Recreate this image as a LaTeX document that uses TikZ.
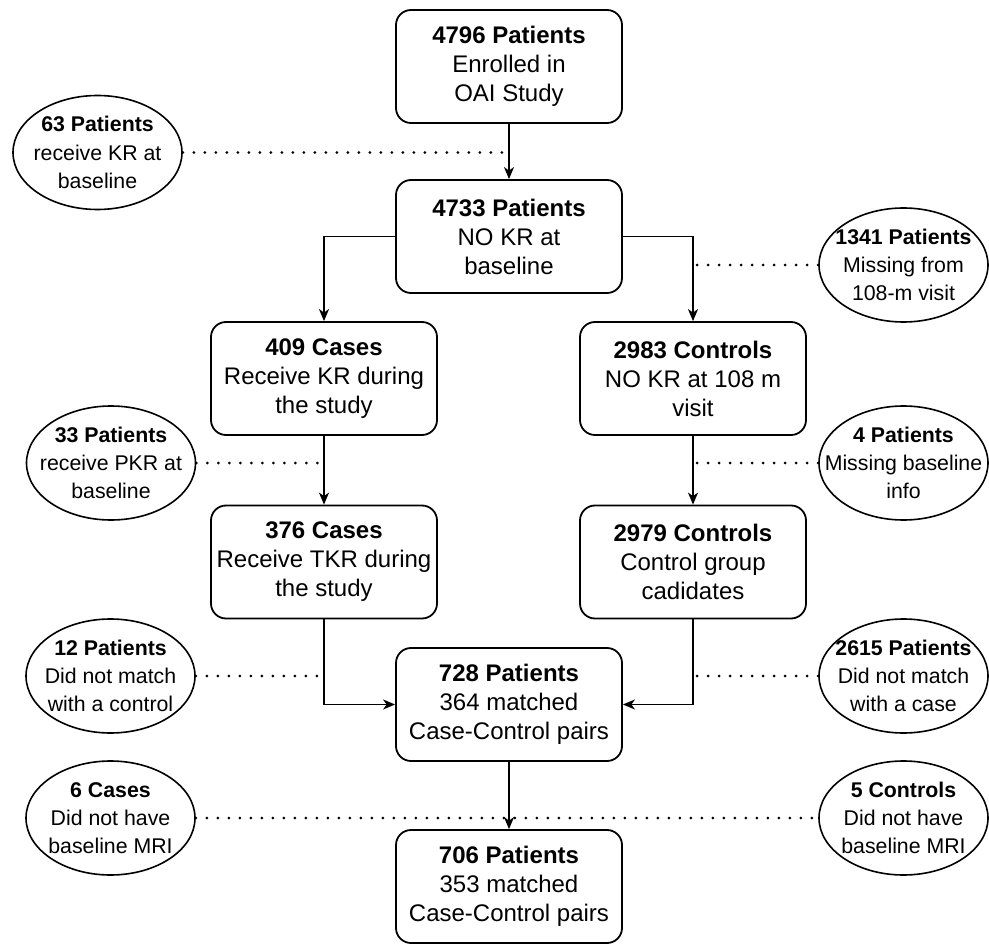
\documentclass[tikz,border=0pt]{standalone}
\usepackage{fontspec}
\setmainfont{Liberation Sans}
\usetikzlibrary{arrows.meta,shapes.geometric}
\begin{document}
\begin{tikzpicture}[x=1pt,y=-1pt,
  box/.style={draw, line width=1.8pt, rounded corners=15pt, minimum width=226pt, minimum height=113pt, align=center, inner sep=0pt, font=\fontsize{24}{29}\selectfont},
  ell/.style={draw, ellipse, line width=1.6pt, minimum width=169pt, minimum height=114pt, inner sep=0pt},
  etext/.style={align=center, inner sep=0pt, font=\fontsize{21.3}{28.3}\selectfont},
  arr/.style={line width=1.6pt, -{Stealth[length=12pt,width=10pt,inset=3.5pt]}},
  dots/.style={line width=3pt, dash pattern=on 0pt off 11pt, line cap=round},
]
\useasboundingbox (0,0) rectangle (989,944);

\node[box] (b1) at (509,66.5) {\textbf{4796 Patients}\\Enrolled in\\OAI Study};
\node[box] (b2) at (509,236.5) {\textbf{4733 Patients}\\NO KR at\\baseline};
\node[box] (b3) at (324,378.5) {\textbf{409 Cases}\\Receive KR during\\the study};
\node[box] (b4) at (693,378.5) {\textbf{2983 Controls}\\NO KR at 108 m\\visit};
\node[box] (b5) at (324,562) {\textbf{376 Cases}\\Receive TKR during\\the study};
\node[box] (b6) at (693,562) {\textbf{2979 Controls}\\Control group\\cadidates};
\node[box] (b7) at (509,704.5) {\textbf{728 Patients}\\364 matched\\Case-Control pairs};
\node[box] (b8) at (509,886.5) {\textbf{706 Patients}\\353 matched\\Case-Control pairs};

\node[ell, label={[etext]center:{\textbf{63 Patients}\\receive KR at\\baseline}}] (e1) at (97.5,152.5) {};
\node[ell, label={[etext]center:{\textbf{1341 Patients}\\Missing from\\108-m visit}}] (e2) at (903.5,265) {};
\node[ell, label={[etext]center:{\textbf{33 Patients}\\receive PKR at\\baseline}}] (e3) at (111,463) {};
\node[ell, label={[etext]center:{\textbf{4 Patients}\\Missing baseline\\info}}] (e4) at (903.5,463) {};
\node[ell, label={[etext]center:{\textbf{12 Patients}\\Did not match\\with a control}}] (e5) at (110.5,676) {};
\node[ell, label={[etext]center:{\textbf{2615 Patients}\\Did not match\\with a case}}] (e6) at (903.5,676) {};
\node[ell, label={[etext]center:{\textbf{6 Cases}\\Did not have\\baseline MRI}}] (e7) at (110.5,818) {};
\node[ell, label={[etext]center:{\textbf{5 Controls}\\Did not have\\baseline MRI}}] (e8) at (903.5,818) {};

\draw[arr] (b1) -- (b2);
\draw[dots] (e1.east) -- (e1.east -| b1.south);
\draw[arr] (b2.west) -| (b3.north);
\draw[arr] (b2.east) -| (b4.north);
\draw[dots] (e2.west) -- (e2.west -| b4.north);
\draw[arr] (b3) -- (b5);
\draw[dots] (e3.east) -- (e3.east -| b3.south);
\draw[arr] (b4) -- (b6);
\draw[dots] (e4.west) -- (e4.west -| b4.south);
\draw[arr] (b5.south) |- (b7.west);
\draw[arr] (b6.south) |- (b7.east);
\draw[dots] (e5.east) -- (e5.east -| b5.south);
\draw[dots] (e6.west) -- (e6.west -| b6.south);
\draw[arr] (b7) -- (b8);
\draw[dots] (e7.east) -- (e8.west);
\end{tikzpicture}
\end{document}
